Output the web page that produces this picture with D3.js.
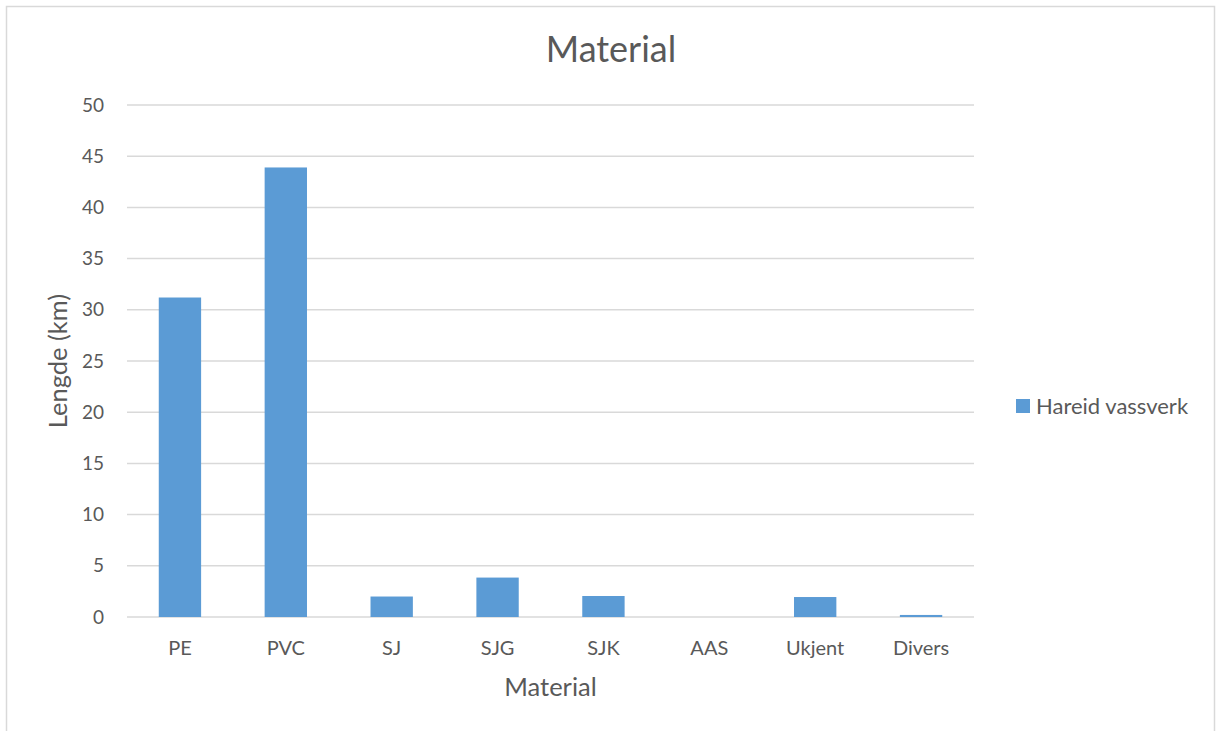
<!DOCTYPE html>
<html>
<head>
<meta charset="utf-8">
<script src="https://cdn.jsdelivr.net/npm/d3@7"></script>
<style>
  body { margin: 0; background: #fff; }
  text { font-family: Lato, "Open Sans", sans-serif; fill: #595959; }
</style>
</head>
<body>
<div id="chart"></div>
<script>
var categories = ["PE", "PVC", "SJ", "SJG", "SJK", "AAS", "Ukjent", "Divers"];
var values = [31.2, 43.9, 2.0, 3.85, 2.05, 0, 1.95, 0.2];
var yTicks = [0, 5, 10, 15, 20, 25, 30, 35, 40, 45, 50];
var seriesName = "Hareid vassverk";

var width = 1216,
    height = 731;
var plotLeft = 127, plotRight = 974, plotTop = 105, plotBottom = 617;

var svg = d3.select("#chart").append("svg")
    .attr("width", width)
    .attr("height", height);

// chart border
svg.append("rect")
    .attr("x", 6.5).attr("y", 6.5)
    .attr("width", 1208).attr("height", 740)
    .attr("fill", "none")
    .attr("stroke", "#d9d9d9")
    .attr("stroke-width", 1.5);

var x = d3.scaleBand()
    .domain(categories)
    .range([plotLeft, plotRight])
    .paddingInner(0.6)
    .paddingOuter(0.3);

var y = d3.scaleLinear()
    .domain([0, 50])
    .range([plotBottom, plotTop]);

// gridlines
svg.append("g")
    .selectAll("line")
    .data(yTicks)
    .enter().append("line")
    .attr("x1", plotLeft).attr("x2", plotRight)
    .attr("y1", d => y(d)).attr("y2", d => y(d))
    .attr("stroke", "#d9d9d9")
    .attr("stroke-width", 1.5);

// y tick labels
svg.append("g")
    .attr("text-anchor", "end")
    .selectAll("text")
    .data(yTicks)
    .enter().append("text")
    .attr("x", 104)
    .attr("y", d => y(d))
    .attr("dy", "0.35em")
    .style("font-size", "19px")
    .text(d => d);

// bars
svg.append("g")
    .selectAll("rect")
    .data(categories)
    .enter().append("rect")
    .attr("x", d => x(d))
    .attr("width", x.bandwidth())
    .attr("y", (d, i) => y(values[i]))
    .attr("height", (d, i) => y(0) - y(values[i]))
    .attr("fill", "#5b9bd5");

// x labels
svg.append("g")
    .attr("text-anchor", "middle")
    .selectAll("text")
    .data(categories)
    .enter().append("text")
    .attr("x", d => x(d) + x.bandwidth() / 2)
    .attr("y", 648)
    .attr("dy", "0.35em")
    .style("font-size", "20px")
    .text(d => d);

// title
svg.append("text")
    .attr("x", 611)
    .attr("y", 62)
    .attr("text-anchor", "middle")
    .style("font-size", "36px")
    .text("Material");

// axis titles
svg.append("text")
    .attr("x", (plotLeft + plotRight) / 2)
    .attr("y", 687)
    .attr("dy", "0.35em")
    .attr("text-anchor", "middle")
    .style("font-size", "25.5px")
    .text("Material");

svg.append("text")
    .attr("transform", "translate(58,361) rotate(-90)")
    .attr("dy", "0.35em")
    .attr("text-anchor", "middle")
    .style("font-size", "25.5px")
    .text("Lengde (km)");

// legend
var legend = svg.append("g").attr("transform", "translate(1016,399)");
legend.append("rect")
    .attr("width", 14).attr("height", 14)
    .attr("fill", "#5b9bd5");
legend.append("text")
    .attr("x", 20)
    .attr("y", 7)
    .attr("dy", "0.35em")
    .style("font-size", "22px")
    .text(seriesName);
</script>
</body>
</html>
